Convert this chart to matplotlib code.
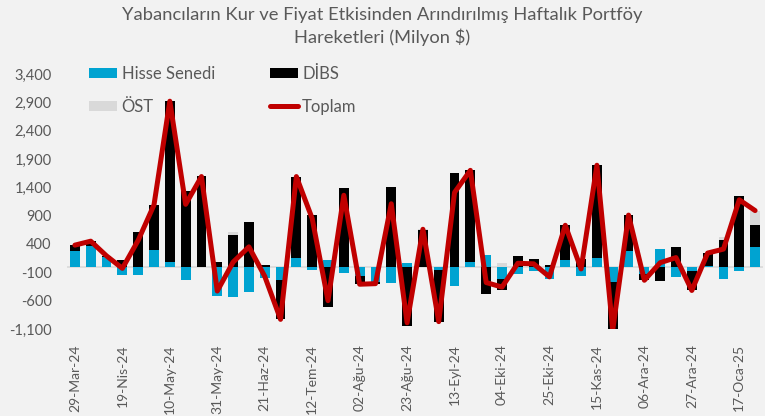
import matplotlib
matplotlib.use("Agg")
import matplotlib.pyplot as plt
import numpy as np
from matplotlib.ticker import FuncFormatter

plt.rcParams['font.family'] = ['Lato', 'DejaVu Sans']

# ---- data (Milyon $), weekly from 29-Mar-24 to 24-Oca-25 ----
hisse = [270, 360, 170, -150, -145, 300, 80, -240, -10, -520,
         -540, -440, -200, -230, 160, -60, 120, -120, -170, -270,
         -290, 60, 0, -60, -340, 90, 200, -220, -130, -80,
         -210, 120, -170, 150, -270, 280, -130, 320, -180, -80,
         20, -220, -70, 340]
dibs = [110, 90, 20, 120, 610, 790, 2840, 1340, 1600, 90,
        560, 790, 30, -700, 1430, 910, -720, 1380, -140, -30,
        1400, -1050, 640, -910, 1650, 1610, -480, -200, 190, 130,
        30, 610, 130, 1640, -850, 630, -110, -250, 340, -340,
        220, 470, 1250, 390]
ost = [0, 0, 0, 0, 0, 0, 0, 0, 0, 0,
       60, 0, 0, 0, 0, 0, 0, 0, 0, 0,
       0, 0, 20, 0, 0, 0, 0, 60, 0, 0,
       0, 0, 0, 0, 0, 0, 0, 0, 0, 0,
       0, 60, 0, 260]
toplam = [380, 450, 190, -30, 465, 1090, 2920, 1100, 1590, -430,
          80, 350, -170, -930, 1590, 850, -600, 1260, -310, -300,
          1110, -990, 660, -970, 1310, 1700, -280, -360, 60, 50,
          -180, 730, -40, 1790, -1120, 910, -240, 70, 160, -420,
          240, 310, 1180, 990]
tick_labels = ['29-Mar-24', '19-Nis-24', '10-May-24', '31-May-24', '21-Haz-24',
               '12-Tem-24', '02-Ağu-24', '23-Ağu-24', '13-Eyl-24', '04-Eki-24',
               '25-Eki-24', '15-Kas-24', '06-Ara-24', '27-Ara-24', '17-Oca-25']
series_names = ['Hisse Senedi', 'DİBS', 'ÖST', 'Toplam']
title = "Yabancıların Kur ve Fiyat Etkisinden Arındırılmış Haftalık Portföy\nHareketleri (Milyon $)"

W, H = 765, 416
bg = '#F2F2F2'
txt = '#595959'
fig = plt.figure(figsize=(W / 100, H / 100), dpi=100, facecolor=bg)
ax = fig.add_axes([67 / W, 1 - 329 / H, (763 - 67) / W, (329 - 74) / H], facecolor=bg)

n = len(hisse)
x = np.arange(n)
pos_base = np.zeros(n)
neg_base = np.zeros(n)
colors = ['#00A3D1', '#000000', '#D9D9D9']
handles = []
for vals, col, name in zip([hisse, dibs, ost], colors, series_names[:3]):
    v = np.array(vals, dtype=float)
    bottom = np.where(v >= 0, pos_base, neg_base)
    b = ax.bar(x, v, bottom=bottom, width=0.62, color=col, label=name, zorder=2)
    handles.append(b)
    pos_base += np.where(v >= 0, v, 0)
    neg_base += np.where(v < 0, v, 0)

line, = ax.plot(x, toplam, color='#C00000', lw=3.6, label='Toplam', zorder=3,
                solid_joinstyle='round', solid_capstyle='round')

ax.axhline(0, color='#D9D9D9', lw=1.2, zorder=1.5)

ax.set_xlim(-0.5, n - 0.5)
ax.set_ylim(-1100, 3400)
ax.set_yticks(np.arange(-1100, 3401, 500))
ax.yaxis.set_major_formatter(FuncFormatter(lambda v, p: f"{int(v):,}"))
ax.set_xticks(np.arange(0, n, 3)[:len(tick_labels)])
ax.set_xticklabels(tick_labels, rotation=90, va='top', ha='center')
ax.tick_params(axis='y', length=0, labelsize=10.5, labelcolor=txt, pad=11)
ax.tick_params(axis='x', length=0, labelsize=10, labelcolor=txt, pad=11)
for s in ax.spines.values():
    s.set_visible(False)

leg = ax.legend([handles[0], handles[2], handles[1], line],
                [series_names[0], series_names[2], series_names[1], series_names[3]],
                ncol=2, loc='upper left', bbox_to_anchor=(89 / W, 1 - 66 / H),
                bbox_transform=fig.transFigure, frameon=False, fontsize=12,
                labelcolor=txt, borderpad=0, borderaxespad=0,
                handlelength=1.7, handleheight=0.5, handletextpad=0.25,
                columnspacing=3.3, labelspacing=1.0)

fig.text(0.5, 1 - 7 / H, title, ha='center', va='top', fontsize=13.2,
         color=txt, linespacing=1.35)

fig.savefig('out.png', dpi=100, facecolor=bg)
